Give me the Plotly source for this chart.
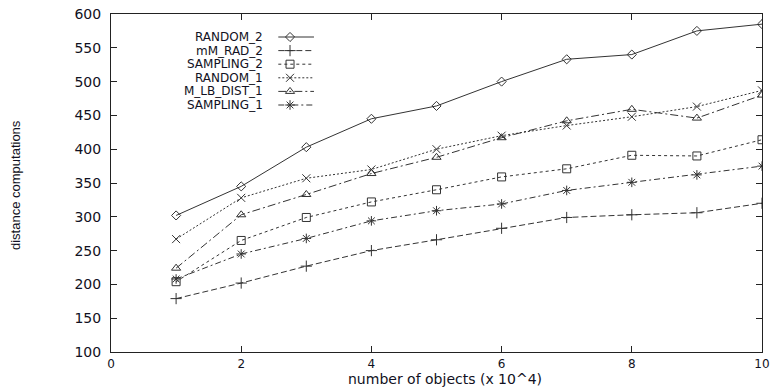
import plotly.graph_objects as go

x_vals = [1, 2, 3, 4, 5, 6, 7, 8, 9, 10]
series_names = ["RANDOM_2", "mM_RAD_2", "SAMPLING_2", "RANDOM_1", "M_LB_DIST_1", "SAMPLING_1"]
random_2 = [302, 345, 403, 445, 464, 500, 533, 540, 575, 585]
mm_rad_2 = [179, 202, 227, 250, 266, 283, 299, 303, 306, 320]
sampling_2 = [204, 265, 299, 322, 340, 359, 371, 391, 390, 414]
random_1 = [267, 328, 357, 370, 400, 420, 435, 448, 463, 487]
m_lb_dist_1 = [224, 303, 333, 364, 388, 417, 442, 459, 446, 480]
sampling_1 = [208, 245, 268, 294, 309, 319, 339, 351, 362, 375]
x_ticks = [0, 2, 4, 6, 8, 10]
y_ticks = [100, 150, 200, 250, 300, 350, 400, 450, 500, 550, 600]

series_values = [random_2, mm_rad_2, sampling_2, random_1, m_lb_dist_1, sampling_1]
styles = [
    dict(dash="solid", symbol="diamond-open", size=7),
    dict(dash="6px,3px", symbol="cross-thin-open", size=8),
    dict(dash="3px,3px", symbol="square-open", size=8),
    dict(dash="2px,2px", symbol="x-thin-open", size=8),
    dict(dash="8px,3px,2px,3px", symbol="triangle-up-open", size=8),
    dict(dash="6px,3px,2px,3px", symbol="asterisk-open", size=8),
]
LINE_COLOR = "#333333"
TEXT_COLOR = "#111122"
FONT = "DejaVu Sans, Liberation Sans, Arial, sans-serif"

PLOT_TOP, PLOT_BOTTOM = 14, 352


def paper_y(px):
    return (PLOT_BOTTOM - px) / (PLOT_BOTTOM - PLOT_TOP)


fig = go.Figure()
for name, vals, st in zip(series_names, series_values, styles):
    fig.add_trace(go.Scatter(
        x=x_vals, y=vals, name=name, mode="lines+markers",
        line=dict(color=LINE_COLOR, width=1, dash=st["dash"]),
        marker=dict(symbol=st["symbol"], size=st["size"], color=LINE_COLOR,
                    line=dict(color=LINE_COLOR, width=1)),
        showlegend=False, xaxis="x", yaxis="y",
    ))

# custom legend: text on the left (right-aligned), sample on the right
leg_rows = [paper_y(37 + 13.6 * i) for i in range(len(series_names))]
for name, st, ry in zip(series_names, styles, leg_rows):
    fig.add_trace(go.Scatter(
        x=[0.257, 0.3118], y=[ry, ry], mode="lines",
        line=dict(color=LINE_COLOR, width=1, dash=st["dash"]),
        showlegend=False, xaxis="x2", yaxis="y2", hoverinfo="skip",
    ))
    fig.add_trace(go.Scatter(
        x=[0.275], y=[ry], mode="markers",
        marker=dict(symbol=st["symbol"], size=st["size"], color=LINE_COLOR,
                    line=dict(color=LINE_COLOR, width=1)),
        showlegend=False, xaxis="x2", yaxis="y2", hoverinfo="skip",
    ))
    fig.add_annotation(x=0.2366, y=ry, xref="x2", yref="y2", text=name,
                       showarrow=False, xanchor="right", yanchor="middle",
                       font=dict(family=FONT, size=12, color=TEXT_COLOR))

axis_common = dict(showline=True, linecolor="#222222", linewidth=1, mirror="ticks",
                   ticks="inside", ticklen=6, tickcolor="#222222", showgrid=False,
                   zeroline=False, automargin=False)
fig.update_layout(
    width=772, height=388,
    margin=dict(l=111, r=10, t=PLOT_TOP, b=388 - PLOT_BOTTOM),
    plot_bgcolor="white", paper_bgcolor="white",
    xaxis=dict(range=[0, 10], tickvals=x_ticks, ticklabelstandoff=1,
               tickfont=dict(family=FONT, size=12, color=TEXT_COLOR), **axis_common),
    yaxis=dict(range=[100, 600], tickvals=y_ticks, ticklabelstandoff=6,
               tickfont=dict(family=FONT, size=14, color=TEXT_COLOR), **axis_common),
    xaxis2=dict(range=[0, 1], overlaying="x", visible=False, fixedrange=True),
    yaxis2=dict(range=[0, 1], overlaying="y", visible=False, fixedrange=True),
    showlegend=False,
)
fig.add_annotation(x=(445 - 111) / 651, y=paper_y(379), xref="paper", yref="paper",
                   text="number of objects (x 10^4)", showarrow=False,
                   xanchor="center", yanchor="middle",
                   font=dict(family=FONT, size=14, color=TEXT_COLOR))
fig.add_annotation(x=(15 - 111) / 651, y=paper_y(185), xref="paper", yref="paper",
                   text="distance computations", showarrow=False, textangle=-90,
                   xanchor="center", yanchor="middle",
                   font=dict(family="Liberation Sans, Arial, sans-serif",
                             size=13, color=TEXT_COLOR))
fig.write_html("out.html", config={"displayModeBar": False},
               post_script="document.body.style.margin='0';document.body.style.padding='0';")
